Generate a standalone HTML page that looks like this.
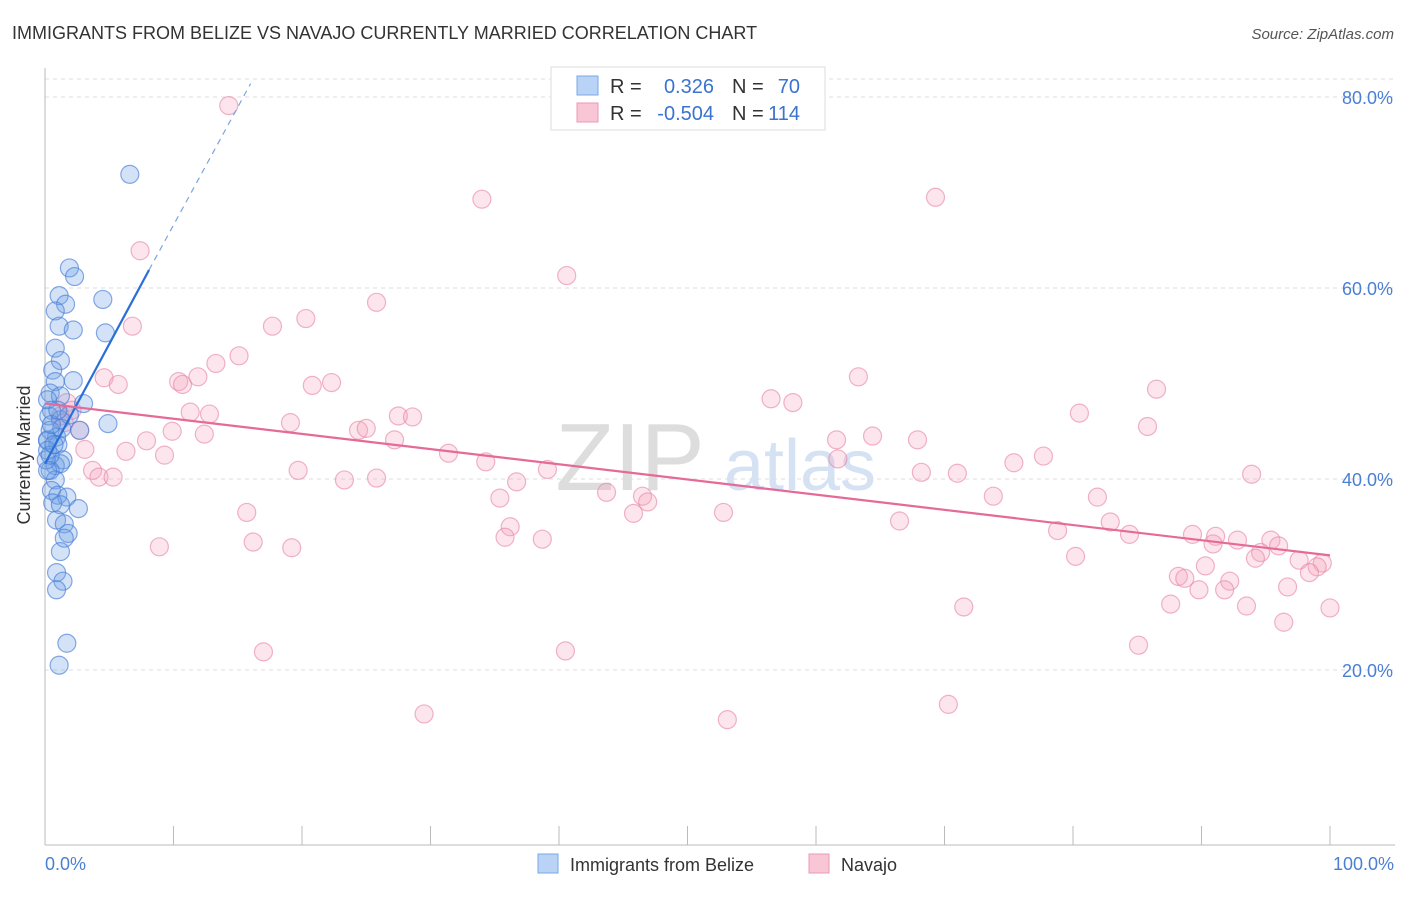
<!DOCTYPE html>
<html><head><meta charset="utf-8"><style>
body{margin:0;background:#fff;font-family:"Liberation Sans",sans-serif;}
svg text{font-family:"Liberation Sans",sans-serif;}
</style></head><body>
<svg id="chart" width="1406" height="892" xmlns="http://www.w3.org/2000/svg">
<text x="12" y="39" font-size="18" fill="#333">IMMIGRANTS FROM BELIZE VS NAVAJO CURRENTLY MARRIED CORRELATION CHART</text>
<text x="1394" y="39" font-size="15" fill="#555" font-style="italic" text-anchor="end">Source: ZipAtlas.com</text>
<text x="630" y="490" font-size="96" fill="#ddd" font-family="Liberation Serif" text-anchor="middle">ZIP</text>
<text x="800" y="490" font-size="72" fill="#d4e2f4" text-anchor="middle">atlas</text>
<g id="grid"></g><g id="axes"></g><g id="pink"></g><g id="blue"></g><g id="lines"></g>
<text x="30" y="455" font-size="18" fill="#333" text-anchor="middle" transform="rotate(-90 30 455)">Currently Married</text>
<text x="45" y="870" font-size="18" fill="#4a7fd4">0.0%</text>
<text x="1394" y="870" font-size="18" fill="#4a7fd4" text-anchor="end">100.0%</text>
<g>
<rect x="551" y="67" width="274" height="63" fill="#fff" stroke="#ddd"/>
<rect x="577" y="76" width="21" height="19" fill="#b8d3f5" stroke="#7aa8e8"/>
<rect x="577" y="103" width="21" height="19" fill="#f9c6d6" stroke="#ec98b5"/>
<text x="610" y="93" font-size="20" fill="#333">R =</text>
<text x="714" y="93" font-size="20" fill="#3a73d0" text-anchor="end">0.326</text>
<text x="732" y="93" font-size="20" fill="#333">N =</text>
<text x="800" y="93" font-size="20" fill="#3a73d0" text-anchor="end">70</text>
<text x="610" y="120" font-size="20" fill="#333">R =</text>
<text x="714" y="120" font-size="20" fill="#3a73d0" text-anchor="end">-0.504</text>
<text x="732" y="120" font-size="20" fill="#333">N =</text>
<text x="800" y="120" font-size="20" fill="#3a73d0" text-anchor="end">114</text>
</g>
<g>
<rect x="538" y="854" width="20" height="19" fill="#b8d3f5" stroke="#7aa8e8"/>
<text x="570" y="871" font-size="18" fill="#333">Immigrants from Belize</text>
<rect x="809" y="854" width="20" height="19" fill="#f9c6d6" stroke="#ec98b5"/>
<text x="841" y="871" font-size="18" fill="#333">Navajo</text>
</g>
</svg>
<script>
const yTicks=[20,40,60,80];
const yTickLabels=["20.0%","40.0%","60.0%","80.0%"];
const xTicks=[0,10,20,30,40,50,60,70,80,90,100];
const blueX=[6.6,1.9,2.3,1.1,4.5,1.6,0.8,1.1,2.2,4.7,0.8,1.2,0.6,0.8,2.2,0.4,1.2,3.0,0.5,0.3,1.2,4.9,0.4,0.9,2.7,0.2,1.0,1.4,0.8,1.2,0.4,0.8,0.5,1.0,1.7,0.6,1.2,2.6,0.9,1.5,1.8,1.5,1.2,0.9,1.4,0.9,1.7,1.1,0.2,0.2,0.1,0.2,0.4,0.7,1.3,1.9,0.2,0.5,1.0];
const blueY=[71.9,62.1,61.2,59.2,58.8,58.3,57.6,56.0,55.6,55.3,53.7,52.4,51.4,50.2,50.3,49.0,48.7,47.9,47.2,46.6,46.2,45.8,45.1,44.4,45.1,44.0,43.6,42.0,41.4,41.6,40.9,39.9,38.8,38.3,38.1,37.5,37.3,36.9,35.7,35.3,34.3,33.8,32.4,30.2,29.3,28.4,22.8,20.5,44.1,43.0,42.0,40.9,42.5,43.6,45.3,46.7,48.3,45.7,47.2];
const pinkX=[14.3,7.4,34.0,69.3,40.6,25.8,6.8,17.7,20.3,15.1,13.3,4.6,5.7,10.4,10.7,11.9,20.8,22.3,63.3,86.5,56.5,58.2,11.3,12.8,80.5,27.5,28.6,19.1,85.8,24.4,25.0,9.9,12.4,61.6,64.4,67.9,7.9,27.2,6.3,9.3,31.4,61.7,34.3,39.1,77.7,75.4,3.7,4.2,5.3,19.7,68.2,71.0,93.9,23.3,25.8,36.7,43.7,46.5,35.4,46.9,73.8,81.9,15.7,52.8,45.8,66.5,82.9,36.2,78.8,84.4,89.3,35.8,38.7,91.1,92.8,90.9,8.9,16.2,19.2,95.4,96.0,94.6,94.2,80.2,97.6,99.4,99.0,98.4,88.2,88.7,92.2,96.7,90.3,89.8,91.8,71.5,87.6,93.5,100.0,96.4,85.1,17.0,40.5,70.3,29.5,53.1,1.7,2.1,1.2,2.7,1.5,3.1];
const pinkY=[79.1,63.9,69.3,69.5,61.3,58.5,56.0,56.0,56.8,52.9,52.1,50.6,49.9,50.2,49.9,50.7,49.8,50.1,50.7,49.4,48.4,48.0,47.0,46.8,46.9,46.6,46.5,45.9,45.5,45.1,45.3,45.0,44.7,44.1,44.5,44.1,44.0,44.1,42.9,42.5,42.7,42.1,41.8,41.0,42.4,41.7,40.9,40.2,40.2,40.9,40.7,40.6,40.5,39.9,40.1,39.7,38.6,38.2,38.0,37.6,38.2,38.1,36.5,36.5,36.4,35.6,35.5,35.0,34.6,34.2,34.2,33.9,33.7,34.0,33.6,33.2,32.9,33.4,32.8,33.6,33.0,32.3,31.7,31.9,31.5,31.2,30.8,30.2,29.8,29.6,29.3,28.7,30.9,28.4,28.4,26.6,26.9,26.7,26.5,25.0,22.6,21.9,22.0,16.4,15.4,14.8,48.0,47.2,46.6,45.1,45.9,43.1];
const blueTrend=[[0,41.6],[8.1,61.9]];
const blueTrendExt=[[8.1,61.9],[16,81.4]];
const pinkTrend=[[0,47.9],[100,32.0]];

const NS="http://www.w3.org/2000/svg";
const sx=v=>45+v*12.85;
const sy=v=>861-v*9.55;
function mk(tag,attrs,parent){const e=document.createElementNS(NS,tag);for(const k in attrs)e.setAttribute(k,attrs[k]);document.getElementById(parent).appendChild(e);return e;}
yTicks.forEach((t,i)=>{
  const l=mk('line',{x1:45,x2:1395,y1:sy(t),y2:sy(t),stroke:'#ddd','stroke-dasharray':'4 4'},'grid');
  
  
  const tx=mk('text',{x:1393,y:sy(t)+7,'font-size':18,fill:'#4a7fd4','text-anchor':'end'},'grid');
  tx.textContent=yTickLabels[i];
  
  
});
const g0=mk('line',{x1:45,x2:1395,y1:79,y2:79,stroke:'#ddd','stroke-dasharray':'4 4'},'grid');


const ya=mk('line',{x1:45,x2:45,y1:68,y2:845,stroke:'#bbb'},'axes');


const xa=mk('line',{x1:45,x2:1395,y1:845,y2:845,stroke:'#bbb'},'axes');


xTicks.forEach(t=>{
  const l=mk('line',{x1:sx(t),x2:sx(t),y1:826,y2:845,stroke:'#bbb'},'axes');
  
  
});
pinkX.forEach((x,i)=>{
  const c=mk('circle',{cx:sx(x),cy:sy(pinkY[i]),r:9,fill:'rgba(244,160,188,0.28)',stroke:'rgba(232,130,165,0.6)','stroke-width':1.2},'pink');
  
  
});
blueX.forEach((x,i)=>{
  const c=mk('circle',{cx:sx(x),cy:sy(blueY[i]),r:9,fill:'rgba(110,160,230,0.3)',stroke:'rgba(70,125,215,0.65)','stroke-width':1.2},'blue');
  
  
});
const bl=mk('line',{x1:sx(blueTrend[0][0]),y1:sy(blueTrend[0][1]),x2:sx(blueTrend[1][0]),y2:sy(blueTrend[1][1]),stroke:'#2a6fd8','stroke-width':2.2},'lines');


const bd=mk('line',{x1:sx(blueTrendExt[0][0]),y1:sy(blueTrendExt[0][1]),x2:sx(blueTrendExt[1][0]),y2:sy(blueTrendExt[1][1]),stroke:'#7aa5e0','stroke-width':1.2,'stroke-dasharray':'6 5'},'lines');


const pl=mk('line',{x1:sx(pinkTrend[0][0]),y1:sy(pinkTrend[0][1]),x2:sx(pinkTrend[1][0]),y2:sy(pinkTrend[1][1]),stroke:'#e56a97','stroke-width':2.2},'lines');


</script>
</body></html>
